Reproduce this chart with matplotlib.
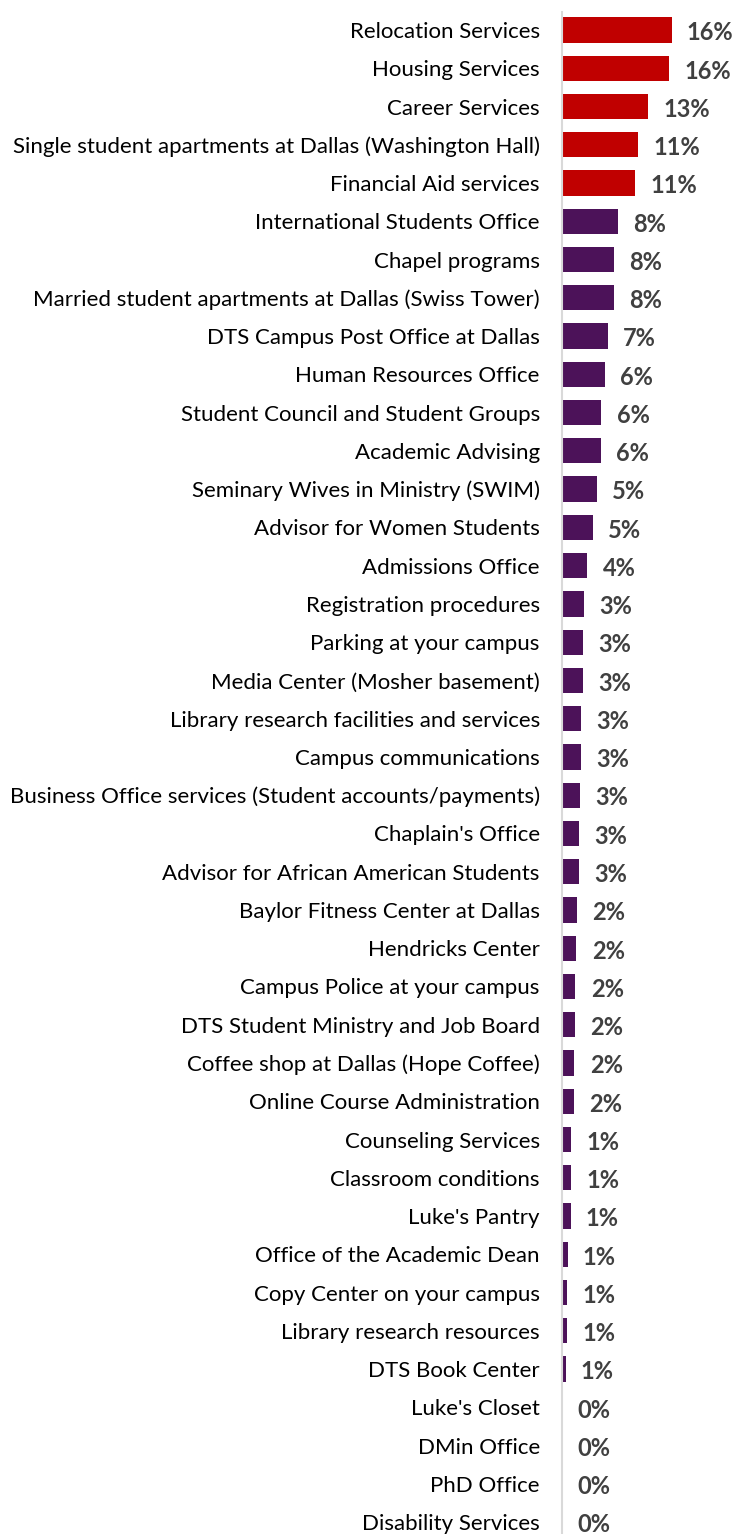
import numpy as np
import matplotlib.pyplot as plt

categories = [
    "Relocation Services", "Housing Services", "Career Services",
    "Single student apartments at Dallas (Washington Hall)", "Financial Aid services",
    "International Students Office", "Chapel programs",
    "Married student apartments at Dallas (Swiss Tower)",
    "DTS Campus Post Office at Dallas", "Human Resources Office",
    "Student Council and Student Groups", "Academic Advising",
    "Seminary Wives in Ministry (SWIM)", "Advisor for Women Students",
    "Admissions Office", "Registration procedures", "Parking at your campus",
    "Media Center (Mosher basement)", "Library research facilities and services",
    "Campus communications", "Business Office services (Student accounts/payments)",
    "Chaplain's Office", "Advisor for African American Students",
    "Baylor Fitness Center at Dallas", "Hendricks Center",
    "Campus Police at your campus", "DTS Student Ministry and Job Board",
    "Coffee shop at Dallas (Hope Coffee)", "Online Course Administration",
    "Counseling Services", "Classroom conditions", "Luke's Pantry",
    "Office of the Academic Dean", "Copy Center on your campus",
    "Library research resources", "DTS Book Center", "Luke's Closet",
    "DMin Office", "PhD Office", "Disability Services",
]
values = [
    16.4, 16.0, 12.9, 11.4, 11.0, 8.4, 7.8, 7.8, 6.9, 6.4,
    5.9, 5.8, 5.2, 4.6, 3.8, 3.3, 3.2, 3.1, 2.9, 2.8,
    2.7, 2.6, 2.55, 2.2, 2.15, 2.0, 1.9, 1.85, 1.8, 1.4,
    1.38, 1.3, 0.85, 0.8, 0.8, 0.55, 0, 0, 0, 0,
]
n_top = 5  # highlighted group

W, H = 738, 1534
fig = plt.figure(figsize=(W / 100, H / 100), dpi=100)
ax = fig.add_axes([562 / W, 0, (W - 562) / W, (H - 12) / H])

y = np.arange(len(categories))
colors = ["#c00000" if i < n_top else "#4c1259" for i in range(len(categories))]
ax.barh(y, values, height=0.66, color=colors, edgecolor="none")

step = 38.26
ax.set_ylim((H - 30) / step, (12 - 30) / step)
ax.set_xlim(0, (W - 562) / 6.68)

ax.set_yticks(y)
ax.set_yticklabels(categories, fontsize=16, family="Lato", color="#000000")
ax.tick_params(axis="y", length=0, pad=16)
ax.set_xticks([])

for s in ["top", "right", "bottom"]:
    ax.spines[s].set_visible(False)
ax.spines["left"].set_color("#d9d9d9")
ax.spines["left"].set_linewidth(1.5)

for yi, v in zip(y, values):
    ax.annotate(f"{v:.0f}%", (v, yi), xytext=(11, -2), textcoords="offset points",
                ha="left", va="center", fontsize=17, fontweight="bold",
                family="Lato", color="#404040")

fig.savefig("out.png", dpi=100)
